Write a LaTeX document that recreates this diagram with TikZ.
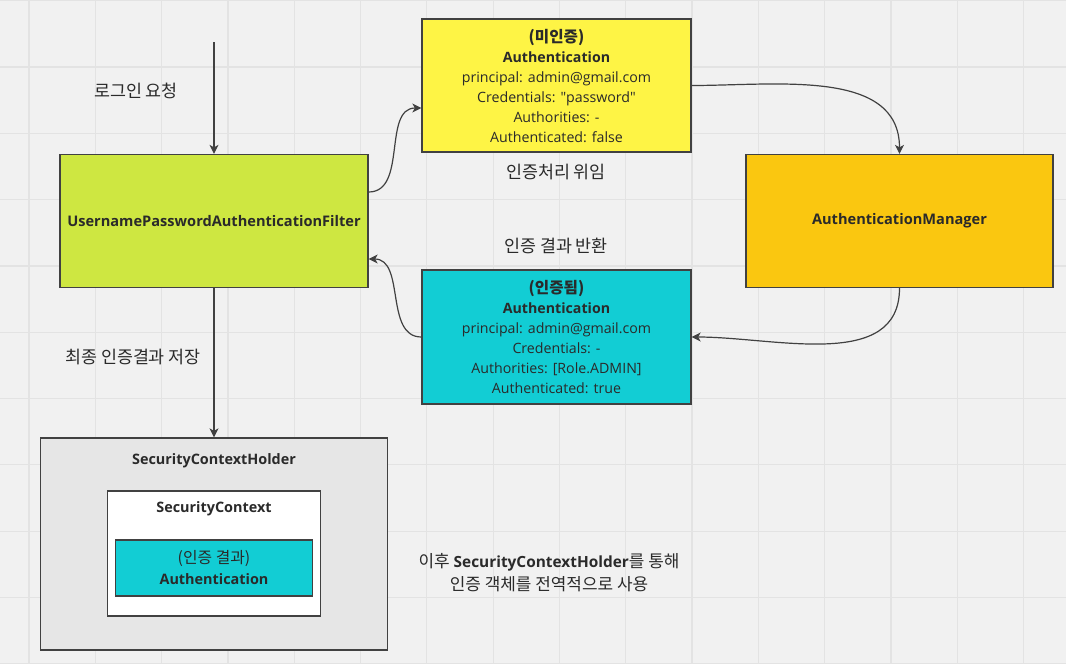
\documentclass[tikz,border=0pt]{standalone}
\usepackage{fontspec}
\setmainfont{Open Sans}
\newfontfamily\kr{Noto Sans CJK KR}[Scale=1.1]
\usetikzlibrary{shapes.geometric, arrows, arrows.meta}
\definecolor{bggray}{HTML}{F1F1F1}
\definecolor{gridgray}{HTML}{E3E3E3}
\definecolor{boxline}{HTML}{414141}
\definecolor{textgray}{HTML}{2A2A2A}
\definecolor{limefill}{HTML}{CEE741}
\definecolor{yellowfill}{HTML}{FEF445}
\definecolor{orangefill}{HTML}{FAC710}
\definecolor{cyanfill}{HTML}{12CDD4}
\definecolor{holderfill}{HTML}{E6E6E6}
\tikzstyle{box} = [rectangle, draw=boxline, line width=1.3pt, text=textgray, align=center, inner sep=2pt]
\tikzstyle{filter} = [box, minimum width=308pt, minimum height=133pt, fill=limefill, font=\fontsize{14.6}{20}\selectfont\bfseries]
\tikzstyle{manager} = [box, minimum width=307pt, minimum height=133pt, fill=orangefill, font=\fontsize{14.6}{20}\selectfont\bfseries]
\tikzstyle{authreq} = [box, minimum width=269pt, minimum height=133pt, fill=yellowfill, font=\fontsize{14.2}{20}\selectfont]
\tikzstyle{authdone} = [box, minimum width=269pt, minimum height=134pt, fill=cyanfill, font=\fontsize{14.2}{20}\selectfont]
\tikzstyle{holder} = [box, minimum width=347pt, minimum height=212pt, fill=holderfill]
\tikzstyle{context} = [box, minimum width=213pt, minimum height=125pt, fill=white]
\tikzstyle{result} = [box, minimum width=197pt, minimum height=56pt, fill=cyanfill, font=\fontsize{14.4}{21}\selectfont]
\tikzstyle{title} = [text=textgray, font=\fontsize{14.4}{20}\selectfont\bfseries]
\tikzstyle{note} = [text=textgray, font=\kr\fontsize{15.8}{22}\selectfont]
\tikzstyle{gridline} = [draw=gridgray, line width=1.2pt]
\tikzstyle{arrow} = [line width=1.2pt, draw=boxline, ->, >={Stealth[length=9pt,width=9pt,inset=2.5pt]}]

\begin{document}
\begin{tikzpicture}[x=1pt, y=1pt, node distance=251.5pt]
% background and grid
\useasboundingbox (0,0) rectangle (1066,-664);
\fill [bggray] (0,0) rectangle (1066,-664);
\foreach \i in {0,...,15}
  \draw [gridline] (29+66.3*\i,0) -- (29+66.3*\i,-664);
\foreach \j in {0,...,10}
  \draw [gridline] (0,-0.7-66.3*\j) -- (1066,-0.7-66.3*\j);

\node (filter) [filter] at (214,-221) {UsernamePasswordAuthenticationFilter};
\node (mgr) [manager] at (899.5,-221) {AuthenticationManager};
\node (authreq) [authreq] at (556.5,-85.5) {{\kr\bfseries (미인증)}\\\textbf{Authentication}\\principal: admin@gmail.com\\Credentials: \textquotedbl password\textquotedbl\\Authorities: -\\Authenticated: false};
\node (authok) [authdone, below of=authreq] {{\kr\bfseries (인증됨)}\\\textbf{Authentication}\\principal: admin@gmail.com\\Credentials: -\\Authorities: [Role.ADMIN]\\Authenticated: true};

\node (holder) [holder] at (214,-544) {};
\node (holdertitle) [title] at ([yshift=-23.5pt]holder.north) {SecurityContextHolder};
\node (context) [context] at (214,-553.5) {};
\node (contexttitle) [title] at ([yshift=-18.5pt]context.north) {SecurityContext};
\node (result) [result] at (214,-568) {{\kr (인증 결과)}\\\textbf{Authentication}};

\coordinate (login) at (214,-42);
\node (loginlbl) [note] at (136,-91) {로그인 요청};
\node (savelbl) [note] at (133,-357) {최종 인증결과 저장};
\node (delegatelbl) [note] at (556,-172) {인증처리 위임};
\node (returnlbl) [note] at (556,-246) {인증 결과 반환};
\node (uselbl) [text=textgray, align=center, font=\fontsize{15.4}{23}\selectfont] at (549,-573) {{\kr 이후} \textbf{SecurityContextHolder}{\kr 를 통해}\\{\kr 인증 객체를 전역적으로 사용}};

\draw [arrow] (login) -- (filter.north);
\draw [arrow] ([yshift=29pt]filter.east) to[out=0,in=180] ([yshift=-22.5pt]authreq.west);
\draw [arrow] (authreq.east) to[out=0,in=90] (mgr.north);
\draw [arrow] (mgr.south) to[out=-90,in=0] (authok.east);
\draw [arrow] (authok.west) to[out=180,in=0] ([yshift=-38pt]filter.east);
\draw [arrow] (filter.south) -- (holder.north);

\end{tikzpicture}
\end{document}
